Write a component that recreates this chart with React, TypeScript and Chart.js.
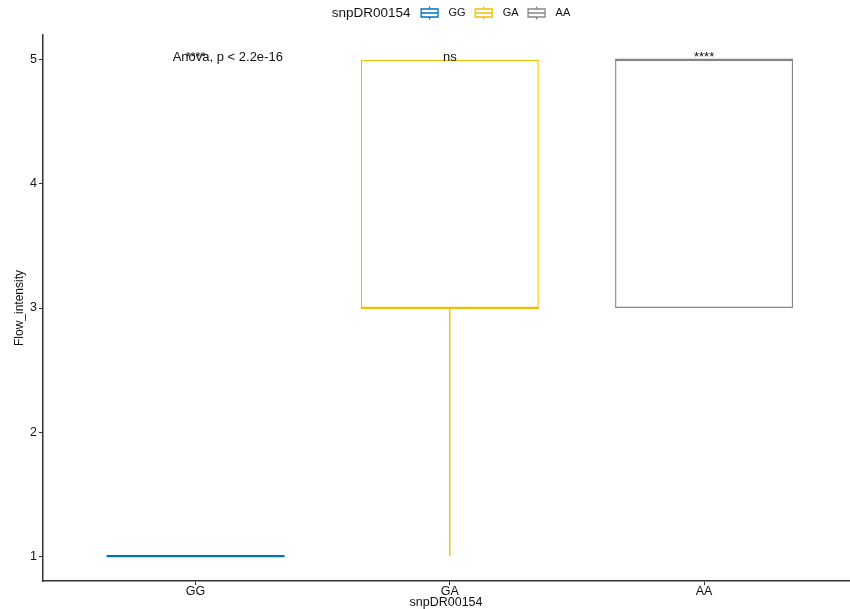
import React, { useEffect, useRef } from "react";
import { Chart, registerables } from "chart.js";

Chart.register(...registerables);

// Genotype groups and their box statistics
const groups = ["GG", "GA", "AA"];
const whiskerLow = [1, 1, 3];
const q1 = [1, 3, 3];
const medians = [1, 3, 5];
const q3 = [1, 5, 5];
const whiskerHigh = [1, 5, 5];
const groupColors = ["#0073C2", "#EFC000", "#868686"];

// Significance labels shown above each group
const sigLabels = ["****", "ns", "****"];
const sigLabelY = [5, 5, 5];
const testLabel = "Anova, p < 2.2e-16";
const testLabelX = -0.09;
const testLabelY = 5;

const yTicks = [1, 2, 3, 4, 5];
const legendTitle = "snpDR00154";
const xTitle = "snpDR00154";
const yTitle = "Flow_intensity";

const FONT = '"Liberation Sans", Arial, Helvetica, sans-serif';

const boxExtras = {
  id: "boxExtras",
  beforeDatasetsDraw(chart: any) {
    const { ctx, scales } = chart;
    const x = scales.x;
    const y = scales.y;
    ctx.save();
    ctx.lineWidth = 1.4;
    groups.forEach((_, i) => {
      const px = x.getPixelForValue(i);
      ctx.strokeStyle = groupColors[i];
      ctx.beginPath();
      ctx.moveTo(px, y.getPixelForValue(q3[i]));
      ctx.lineTo(px, y.getPixelForValue(whiskerHigh[i]));
      ctx.moveTo(px, y.getPixelForValue(q1[i]));
      ctx.lineTo(px, y.getPixelForValue(whiskerLow[i]));
      ctx.stroke();
    });
    ctx.restore();
  },
  afterDatasetsDraw(chart: any) {
    const { ctx, scales } = chart;
    const x = scales.x;
    const y = scales.y;
    const meta = chart.getDatasetMeta(0);
    ctx.save();
    ctx.lineWidth = 2.2;
    groups.forEach((_, i) => {
      const bar = meta.data[i];
      const half = bar.width / 2;
      const px = x.getPixelForValue(i);
      const py = y.getPixelForValue(medians[i]);
      ctx.strokeStyle = groupColors[i];
      ctx.beginPath();
      ctx.moveTo(px - half, py);
      ctx.lineTo(px + half, py);
      ctx.stroke();
    });

    // significance text
    ctx.fillStyle = "#111";
    ctx.font = `13px ${FONT}`;
    ctx.textBaseline = "alphabetic";
    ctx.textAlign = "left";
    ctx.fillText(testLabel, x.getPixelForValue(testLabelX), y.getPixelForValue(testLabelY) + 1);
    ctx.textAlign = "center";
    groups.forEach((_, i) => {
      ctx.fillText(sigLabels[i], x.getPixelForValue(i), y.getPixelForValue(sigLabelY[i]) + 1);
    });
    ctx.restore();
  },
  afterDraw(chart: any) {
    // legend: title followed by boxplot keys
    const { ctx, chartArea } = chart;
    ctx.save();
    const titleFont = `13.5px ${FONT}`;
    const labelFont = `11px ${FONT}`;
    ctx.font = titleFont;
    const titleW = ctx.measureText(legendTitle).width;
    ctx.font = labelFont;
    const labelW = groups.map((g) => ctx.measureText(g).width);
    const keyW = 20;
    const gapTitle = 9;
    const gapKeyText = 9;
    const gapItem = 8;
    let total = titleW;
    groups.forEach((_, i) => {
      total += (i === 0 ? gapTitle : gapItem) + keyW + gapKeyText + labelW[i];
    });
    const cy = 13;
    let cx = (chartArea.left + chartArea.right) / 2 + 5 - total / 2;
    ctx.fillStyle = "#111";
    ctx.textBaseline = "middle";
    ctx.textAlign = "left";
    ctx.font = titleFont;
    ctx.fillText(legendTitle, cx, cy);
    cx += titleW;
    ctx.font = labelFont;
    groups.forEach((g, i) => {
      cx += i === 0 ? gapTitle : gapItem;
      const left = cx + 1.5;
      const right = cx + keyW - 1.5;
      const mid = cx + keyW / 2;
      ctx.strokeStyle = groupColors[i];
      ctx.lineWidth = 1.3;
      ctx.beginPath();
      ctx.rect(left, cy - 4, right - left, 8);
      ctx.moveTo(left, cy);
      ctx.lineTo(right, cy);
      ctx.moveTo(mid, cy - 4);
      ctx.lineTo(mid, cy - 6.5);
      ctx.moveTo(mid, cy + 4);
      ctx.lineTo(mid, cy + 6.5);
      ctx.stroke();
      cx += keyW + gapKeyText;
      ctx.fillText(g, cx, cy);
      cx += labelW[i];
    });
    ctx.restore();
  },
};

export default function App() {
  const ref = useRef<HTMLCanvasElement>(null);

  useEffect(() => {
    if (!ref.current) return;
    const chart = new Chart(ref.current, {
      type: "bar",
      data: {
        datasets: [
          {
            label: legendTitle,
            data: groups.map((_, i) => ({ x: i, y: [q1[i], q3[i]] })) as any,
            backgroundColor: "#ffffff",
            borderColor: groupColors,
            borderWidth: 1.4,
            borderSkipped: false,
            barPercentage: 0.7,
            categoryPercentage: 1,
          },
        ],
      },
      options: {
        animation: false,
        responsive: true,
        maintainAspectRatio: false,
        layout: { padding: { top: 35, right: 1, left: 0, bottom: 0 } },
        plugins: {
          legend: { display: false },
          tooltip: { enabled: false },
        },
        scales: {
          x: {
            type: "linear",
            min: -0.6,
            max: 2.57,
            offset: false,
            afterBuildTicks: (scale: any) => {
              scale.ticks = groups.map((_, i) => ({ value: i }));
            },
            afterFit: (scale: any) => {
              scale.height = 28;
            },
            ticks: {
              autoSkip: false,
              maxRotation: 0,
              padding: -1,
              color: "#111",
              font: { family: FONT, size: 12.5 },
              callback: (v: any) => groups[v as number] ?? "",
            },
            grid: {
              offset: false,
              drawOnChartArea: false,
              drawTicks: true,
              tickLength: 4,
              tickColor: "#333",
              tickWidth: 1,
            },
            border: { display: true, color: "#333", width: 1.5 },
            title: {
              display: true,
              text: xTitle,
              color: "#111",
              font: { family: FONT, size: 12.5 },
              padding: { top: 0, bottom: -1 },
            },
          },
          y: {
            type: "linear",
            min: 0.8,
            max: 5.2,
            afterBuildTicks: (scale: any) => {
              scale.ticks = yTicks.map((v) => ({ value: v }));
            },
            afterFit: (scale: any) => {
              scale.width = 43;
            },
            ticks: {
              padding: 2,
              color: "#111",
              font: { family: FONT, size: 12.5 },
              callback: (v: any) => String(v),
            },
            grid: {
              drawOnChartArea: false,
              drawTicks: true,
              tickLength: 4,
              tickColor: "#333",
              tickWidth: 1,
            },
            border: { display: true, color: "#333", width: 1.5 },
            title: {
              display: true,
              text: yTitle,
              color: "#111",
              font: { family: FONT, size: 12 },
              padding: { top: 12, bottom: 0 },
            },
          },
        },
      },
      plugins: [boxExtras],
    });
    return () => chart.destroy();
  }, []);

  return (
    <div
      style={{
        position: "fixed",
        left: 0,
        top: 0,
        width: 850,
        height: 609,
        background: "#ffffff",
      }}
    >
      <canvas ref={ref} />
    </div>
  );
}
